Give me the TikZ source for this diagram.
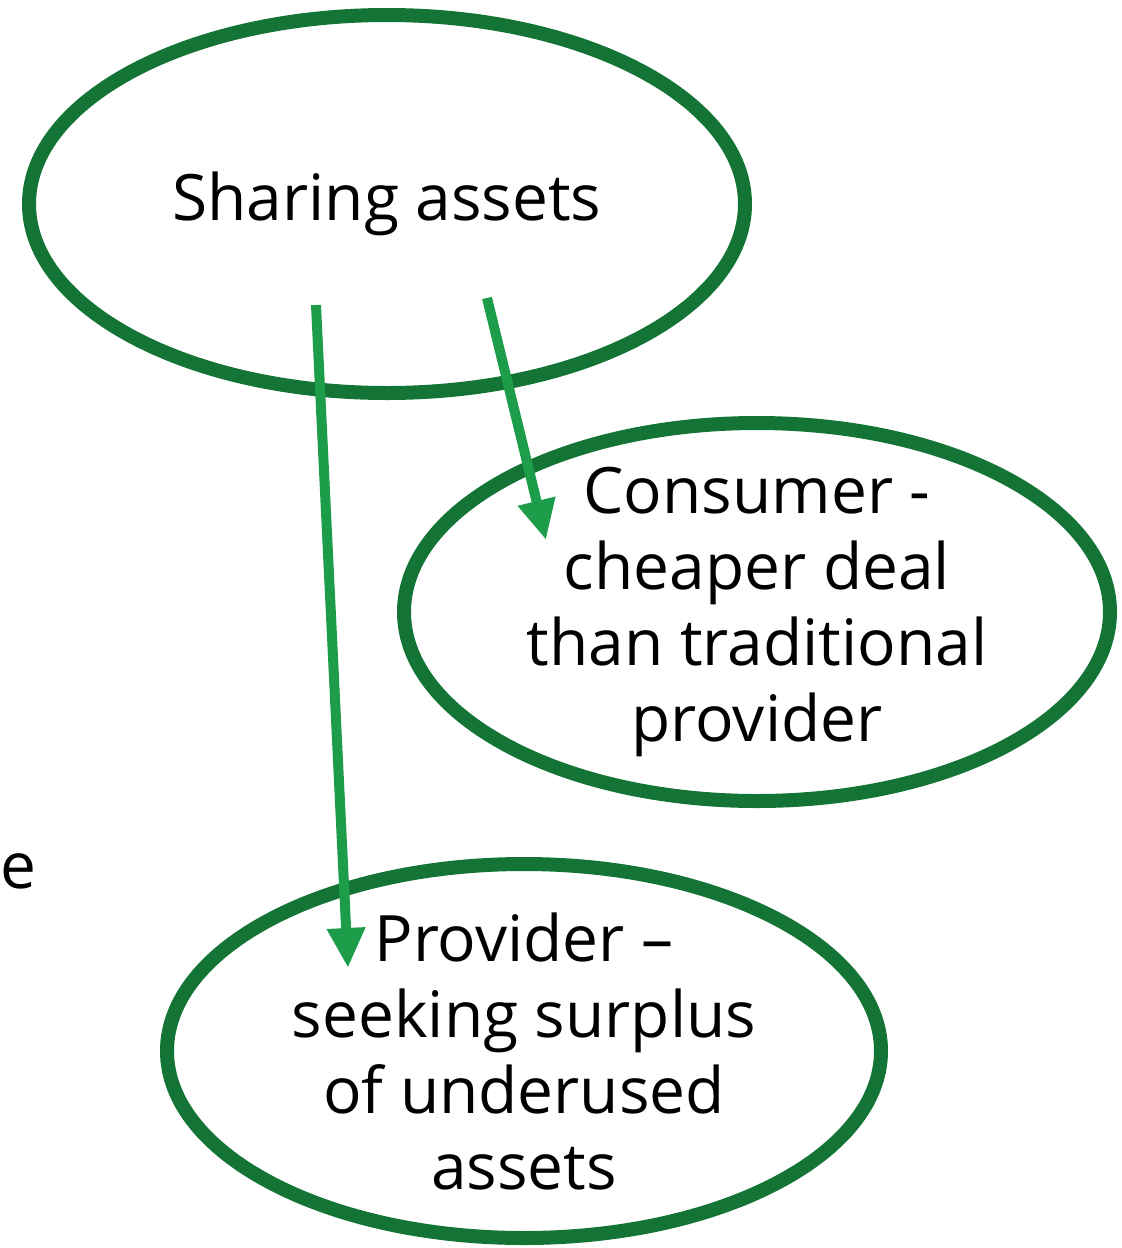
\documentclass[tikz,border=0pt]{standalone}
\usepackage{fontspec}
\setmainfont{Open Sans}
\usetikzlibrary{shapes.geometric,arrows.meta}
\definecolor{ringgreen}{RGB}{19,116,54}
\definecolor{arrowgreen}{RGB}{29,157,73}
\begin{document}
\begin{tikzpicture}[x=1pt,y=-1pt]

\def\lw{14pt}
\tikzstyle{bubble} = [
	draw=ringgreen, line width=\lw, ellipse, inner sep=0pt,
	align=center, font=\fontsize{64}{76}\selectfont ];
\tikzstyle{tall} = [inner ysep=-50pt];
\tikzstyle{link} = [
	draw=arrowgreen, line width=10pt,
	-{Triangle[length=40pt,width=36pt]} ];
\useasboundingbox (0,0) rectangle (1122,1248);

\node[bubble,minimum width=716pt,minimum height=378pt] (share) at (387,204) {Sharing assets};
\node[bubble,tall,minimum width=706pt,minimum height=378pt] (cons) at (757,612)
	{Consumer -\\cheaper deal\\than traditional\\provider};
\node[bubble,tall,minimum width=714pt,minimum height=374pt] (prov) at (524,1051)
	{Provider --\\seeking surplus\\of underused\\assets};

% stray letter at the left edge
\node[anchor=base west,inner sep=0pt,font=\fontsize{64}{76}\selectfont] (stray) at (0,888) {e};

\coordinate (c1) at (316,305);
\coordinate (c2) at (348,968);
\coordinate (c3) at (487,298);
\coordinate (c4) at (546,540);
\draw[link] (c1) -- (c2);
\draw[link] (c3) -- (c4);

\end{tikzpicture}
\end{document}
